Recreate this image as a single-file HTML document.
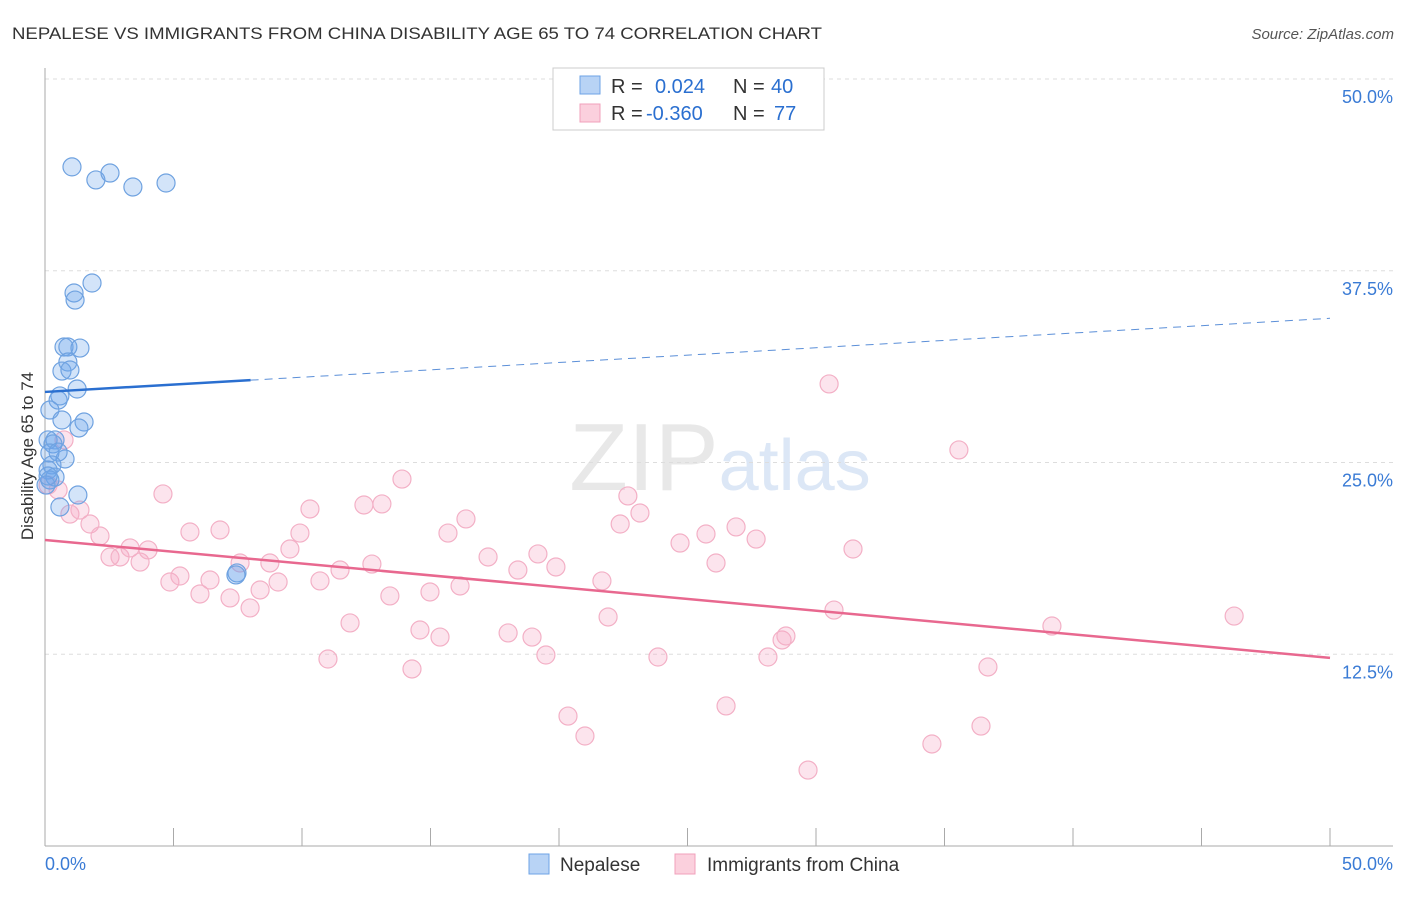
<!DOCTYPE html>
<html><head><meta charset="utf-8"><style>
body{margin:0;background:#fff;font-family:"Liberation Sans",sans-serif;}
svg text{font-family:"Liberation Sans",sans-serif;}
</style></head><body>
<svg width="1406" height="892" id="c">
<text x="12" y="39" font-size="17" fill="#333" textLength="810" lengthAdjust="spacingAndGlyphs">NEPALESE VS IMMIGRANTS FROM CHINA DISABILITY AGE 65 TO 74 CORRELATION CHART</text>
<text x="1394" y="39" font-size="15" fill="#555" text-anchor="end" font-style="italic">Source: ZipAtlas.com</text>
<text x="720" y="490" font-size="96" fill="#e8e8e8" text-anchor="middle" font-family="Liberation Serif">ZIP<tspan fill="#dce7f6" font-family="Liberation Sans" font-size="72">atlas</tspan></text>
<text transform="translate(33,456) rotate(-90)" font-size="17" fill="#333" text-anchor="middle">Disability Age 65 to 74</text>
<g id="grid"></g><g id="pts"></g><g id="lines"></g>
<g>
<rect x="553" y="68" width="271" height="62" fill="#fff" stroke="#ccc"/>
<rect x="580" y="76" width="20" height="18" fill="#b8d3f5" stroke="#6ea3e6"/>
<rect x="580" y="104" width="20" height="18" fill="#fbd0dd" stroke="#f0a0bb"/>
<text x="611" y="93" font-size="20" fill="#333">R = <tspan fill="#2a6fd0" x="655">0.024</tspan><tspan x="733">N = </tspan><tspan fill="#2a6fd0" x="771">40</tspan></text>
<text x="611" y="120" font-size="20" fill="#333">R = <tspan fill="#2a6fd0" x="646">-0.360</tspan><tspan x="733">N = </tspan><tspan fill="#2a6fd0" x="774">77</tspan></text>
</g>
<g>
<rect x="529" y="854" width="20" height="20" fill="#b8d3f5" stroke="#6ea3e6"/>
<text x="560" y="871" font-size="19" fill="#333">Nepalese</text>
<rect x="675" y="854" width="20" height="20" fill="#fbd0dd" stroke="#f0a0bb"/>
<text x="707" y="871" font-size="19" fill="#333">Immigrants from China</text>
</g>
</svg>
<script>
const yTicks=[12.5,25,37.5,50];
const yTickLabels=["12.5%","25.0%","37.5%","50.0%"];
const xTickLabels=["0.0%","50.0%"];
const blueX=[1.05,1.98,2.53,3.42,4.71,1.13,1.83,1.17,0.74,0.89,1.36,0.89,0.66,0.97,1.25,0.58,0.51,0.19,1.52,1.32,0.66,0.39,0.12,0.78,0.31,0.19,0.51,0.27,0.12,0.39,0.19,1.28,0.58,7.47,7.43,0.04,0.12];
const blueY=[44.27,43.42,43.87,42.96,43.22,36.05,36.70,35.59,32.53,32.53,32.46,31.55,30.96,31.03,29.79,29.34,29.07,28.42,27.64,27.25,27.77,26.47,26.47,25.23,26.21,25.62,25.68,24.84,24.51,24.05,23.86,22.88,22.10,17.80,17.67,23.53,24.12];
const pinkX=[0.51,0.97,1.36,1.75,2.14,2.53,2.92,3.31,3.70,4.01,4.59,4.86,5.25,5.64,6.03,6.42,6.81,7.20,7.59,7.98,8.37,8.75,9.07,9.53,9.92,10.31,10.70,11.01,11.48,11.87,12.41,12.72,13.11,13.42,13.89,14.28,14.59,14.98,15.37,15.68,16.15,16.38,17.24,18.02,18.40,18.95,19.18,19.49,19.88,20.35,21.01,21.67,21.91,22.38,22.68,23.15,23.85,24.71,25.72,26.11,26.50,26.89,27.67,28.13,28.68,28.83,29.69,30.51,30.70,31.44,34.51,35.56,36.42,36.69,39.18,46.27,0.74,0.12];
const pinkY=[23.21,21.64,21.90,20.99,20.21,18.84,18.84,19.43,18.51,19.30,22.95,17.21,17.60,20.47,16.43,17.34,20.60,16.17,18.45,15.52,16.69,18.45,17.21,19.36,20.40,21.97,17.28,12.19,17.99,14.54,22.23,18.38,22.30,16.30,23.92,11.54,14.08,16.56,13.62,20.40,16.95,21.32,18.84,13.89,17.99,13.62,19.04,12.45,18.19,8.47,7.17,17.28,14.93,20.99,22.82,21.71,12.32,19.75,20.34,18.45,9.13,20.80,20.01,12.32,13.43,13.69,4.95,30.12,15.38,19.36,6.65,25.82,7.82,11.67,14.34,14.99,26.47,23.53];
const blueTrend=[29.6,34.4];
const pinkTrend=[19.95,12.26];
const NS="http://www.w3.org/2000/svg";
const X=v=>45+v/50*1285, Y=v=>846-v/50*767;
function mk(t,a,p){const e=document.createElementNS(NS,t);for(const k in a)e.setAttribute(k,a[k]);p.appendChild(e);return e;}
const g=document.getElementById('grid');
yTicks.forEach((t,i)=>{
 const l=mk('line',{x1:45,x2:1393,y1:Y(t),y2:Y(t),stroke:'#ddd','stroke-dasharray':'4,4'},g);
 
 
 const tx=mk('text',{x:1393,y:Y(t)+24,'font-size':18,fill:'#3a7bd5','text-anchor':'end'},g);
 tx.textContent=yTickLabels[i];
 
 
});
mk('line',{x1:45,x2:45,y1:68,y2:846,stroke:'#aaa'},g);
mk('line',{x1:45,x2:1393,y1:846,y2:846,stroke:'#aaa'},g);
for(let i=0;i<=10;i++){mk('line',{x1:X(i*5),x2:X(i*5),y1:828,y2:846,stroke:'#aaa'},g);}
const xl0=mk('text',{x:45,y:870,'font-size':18,fill:'#3a7bd5'},g);xl0.textContent=xTickLabels[0];


const xl1=mk('text',{x:1393,y:870,'font-size':18,fill:'#3a7bd5','text-anchor':'end'},g);xl1.textContent=xTickLabels[1];


const p=document.getElementById('pts');
pinkX.forEach((v,i)=>{const c=mk('circle',{cx:X(v),cy:Y(pinkY[i]),r:9,fill:'rgba(245,165,195,0.3)',stroke:'#f3b0c6','stroke-width':1.2},p);
 
 });
blueX.forEach((v,i)=>{const c=mk('circle',{cx:X(v),cy:Y(blueY[i]),r:9,fill:'rgba(110,165,235,0.3)',stroke:'#6fa2e0','stroke-width':1.2},p);
 
 });
const L=document.getElementById('lines');
const bAt=x=>blueTrend[0]+(blueTrend[1]-blueTrend[0])*x/50;
const b1=mk('line',{x1:X(0),y1:Y(bAt(0)),x2:X(8),y2:Y(bAt(8)),stroke:'#2a6fd0','stroke-width':2.5},L);


const b2=mk('line',{x1:X(8),y1:Y(bAt(8)),x2:X(50),y2:Y(bAt(50)),stroke:'#5b8fd8','stroke-width':1,'stroke-dasharray':'8,6'},L);


const pl=mk('line',{x1:X(0),y1:Y(pinkTrend[0]),x2:X(50),y2:Y(pinkTrend[1]),stroke:'#e8688f','stroke-width':2.5},L);


</script>
</body></html>
